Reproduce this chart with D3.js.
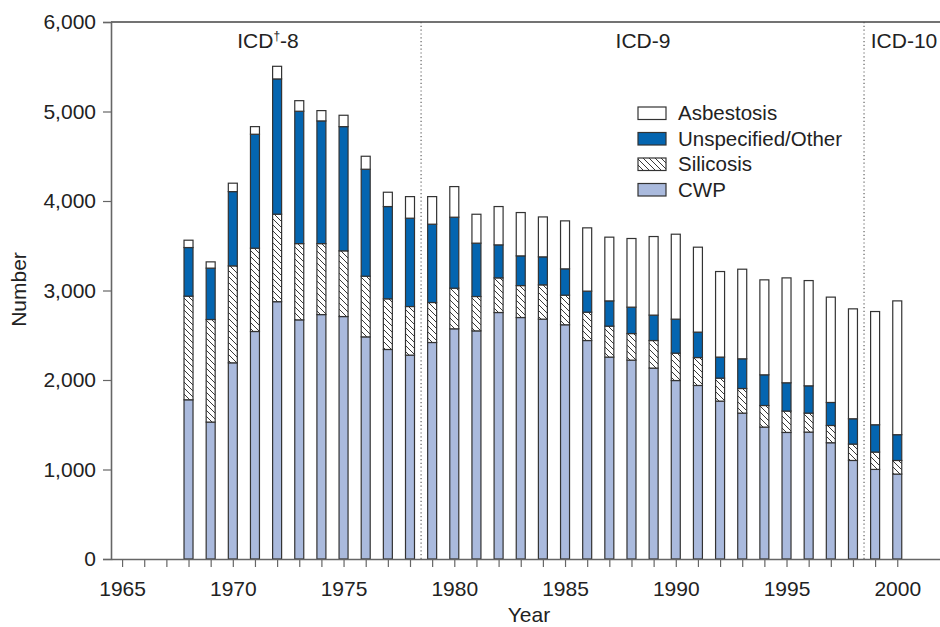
<!DOCTYPE html>
<html>
<head>
<meta charset="utf-8">
<script src="https://cdn.jsdelivr.net/npm/d3@7"></script>
<style>
  body { margin: 0; background: #fff; }
  svg text { font-family: "Liberation Sans", Arial, sans-serif; fill: #222; }
</style>
</head>
<body>
<div id="chart"></div>
<script>
// Pneumoconiosis deaths by type
const years = d3.range(1968, 2001);
const cwp = [1779, 1530, 2192, 2542, 2875, 2672, 2731, 2709, 2482, 2341, 2278,
             2419, 2572, 2549, 2754, 2698, 2680, 2617, 2441, 2256, 2222, 2133,
             1994, 1939, 1764, 1630, 1474, 1414, 1418, 1299, 1101, 1001, 949];
const silicosis = [1158, 1146, 1083, 931, 978, 852, 793, 734, 678, 566, 543,
                   447, 454, 384, 387, 357, 383, 331, 317, 346, 297, 308,
                   306, 312, 257, 275, 241, 239, 212, 193, 183, 194, 152];
const unspecified = [543, 574, 830, 1273, 1511, 1479, 1371, 1388, 1195, 1031, 987,
                     875, 793, 596, 369, 332, 313, 294, 235, 282, 295, 284,
                     380, 284, 235, 332, 343, 316, 305, 257, 283, 305, 288];
const asbestosis = [82, 70, 94, 85, 141, 118, 115, 127, 145, 160, 241,
                    308, 342, 323, 428, 484, 446, 536, 707, 712, 767, 878,
                    949, 949, 956, 1001, 1061, 1172, 1176, 1177, 1228, 1265, 1495];

const keys = ["cwp", "silicosis", "unspecified", "asbestosis"];
const legendLabels = ["Asbestosis", "Unspecified/Other", "Silicosis", "CWP"];
const legendKeys = ["asbestosis", "unspecified", "silicosis", "cwp"];
const yTicks = [0, 1000, 2000, 3000, 4000, 5000, 6000];
const xLabelYears = [1965, 1970, 1975, 1980, 1985, 1990, 1995, 2000];
const icdBreaks = [1978.5, 1998.5];

const data = years.map((yr, i) => ({
  year: yr, cwp: cwp[i], silicosis: silicosis[i],
  unspecified: unspecified[i], asbestosis: asbestosis[i]
}));

const W = 940, H = 627;
const plot = {left: 111, right: 940, top: 22, bottom: 559};
const fontSize = 21;

const svg = d3.select("#chart").append("svg")
  .attr("width", W).attr("height", H);

// hatch pattern for silicosis
const defs = svg.append("defs");
const pat = defs.append("pattern")
  .attr("id", "hatch")
  .attr("patternUnits", "userSpaceOnUse")
  .attr("width", 6).attr("height", 6);
pat.append("rect").attr("width", 6).attr("height", 6).attr("fill", "#fff");
pat.append("path")
  .attr("d", "M0,0L6,6M-1,5L1,7M5,-1L7,1")
  .attr("stroke", "#222").attr("stroke-width", 0.9);

const fills = {
  cwp: "#aabadd",
  silicosis: "url(#hatch)",
  unspecified: "#0465b0",
  asbestosis: "#fff"
};

const x = d3.scaleLinear()
  .domain([1964.5, 2001.93])
  .range([plot.left, plot.right]);

const y = d3.scaleLinear()
  .domain([0, 6000])
  .range([plot.bottom, plot.top]);

// top frame line
svg.append("line")
  .attr("x1", plot.left).attr("x2", plot.right)
  .attr("y1", y(6000)).attr("y2", y(6000))
  .attr("stroke", "#444").attr("stroke-width", 1.3);

// ICD revision separators
svg.selectAll(".icd-line")
  .data(icdBreaks)
  .join("line")
  .attr("class", "icd-line")
  .attr("x1", d => x(d)).attr("x2", d => x(d))
  .attr("y1", y(6000)).attr("y2", plot.bottom)
  .attr("stroke", "#555").attr("stroke-width", 1.1)
  .attr("stroke-dasharray", "1.2,2.6");

// stacked bars
const stacked = d3.stack().keys(keys)(data);
const barW = 9;

svg.append("g")
  .selectAll("g")
  .data(stacked)
  .join("g")
  .attr("fill", d => fills[d.key])
  .selectAll("rect")
  .data(d => d)
  .join("rect")
  .attr("x", d => x(d.data.year) - barW / 2)
  .attr("y", d => y(d[1]))
  .attr("width", barW)
  .attr("height", d => y(d[0]) - y(d[1]))
  .attr("stroke", "#333")
  .attr("stroke-width", 1.2);

// y axis
const yAxis = svg.append("g")
  .attr("transform", `translate(${plot.left},0)`)
  .call(d3.axisLeft(y).tickValues(yTicks).tickFormat(d3.format(",")).tickSize(8).tickPadding(7));
yAxis.select(".domain").attr("stroke", "#666").attr("stroke-width", 1.6);
yAxis.selectAll(".tick line").attr("stroke", "#666").attr("stroke-width", 1.2);
yAxis.selectAll(".tick text")
  .attr("font-size", fontSize)
  .attr("font-family", "Liberation Sans, Arial, sans-serif")
  .attr("fill", "#222");

// x axis
const xAxis = svg.append("g")
  .attr("transform", `translate(0,${plot.bottom})`)
  .call(d3.axisBottom(x).tickValues(d3.range(1965, 2001)).tickSize(8).tickPadding(14)
    .tickFormat(d => xLabelYears.includes(d) ? d : "").tickSizeOuter(0));
xAxis.select(".domain").attr("stroke", "#666").attr("stroke-width", 1.6);
xAxis.selectAll(".tick line").attr("stroke", "#666").attr("stroke-width", 1.2);
xAxis.selectAll(".tick text")
  .attr("font-size", fontSize)
  .attr("font-family", "Liberation Sans, Arial, sans-serif")
  .attr("fill", "#222");

// axis titles
svg.append("text")
  .attr("x", 529)
  .attr("y", 622)
  .attr("text-anchor", "middle")
  .attr("font-size", fontSize)
  .text("Year");

svg.append("text")
  .attr("transform", `translate(26,${(plot.top + plot.bottom) / 2 - 1}) rotate(-90)`)
  .attr("text-anchor", "middle")
  .attr("font-size", fontSize)
  .text("Number");

// ICD labels
const icd8 = svg.append("text")
  .attr("x", 268).attr("y", 48)
  .attr("text-anchor", "middle")
  .attr("font-size", fontSize);
icd8.append("tspan").text("ICD");
icd8.append("tspan").attr("font-size", 12).attr("dy", -8).text("†");
icd8.append("tspan").attr("dy", 8).text("-8");

svg.append("text")
  .attr("x", 643).attr("y", 48)
  .attr("text-anchor", "middle")
  .attr("font-size", fontSize)
  .text("ICD-9");

svg.append("text")
  .attr("x", 904).attr("y", 48)
  .attr("text-anchor", "middle")
  .attr("font-size", fontSize)
  .text("ICD-10");

// legend
const legend = svg.append("g").attr("transform", "translate(638,120)");
const item = legend.selectAll("g")
  .data(legendKeys)
  .join("g")
  .attr("transform", (d, i) => `translate(0,${i * 25.5})`);
item.append("rect")
  .attr("x", 0).attr("y", -13)
  .attr("width", 28).attr("height", 12.5)
  .attr("fill", d => fills[d])
  .attr("stroke", "#333")
  .attr("stroke-width", 1.2);
item.append("text")
  .attr("x", 40).attr("y", 0)
  .attr("font-size", 20.5)
  .text((d, i) => legendLabels[i]);
</script>
</body>
</html>
